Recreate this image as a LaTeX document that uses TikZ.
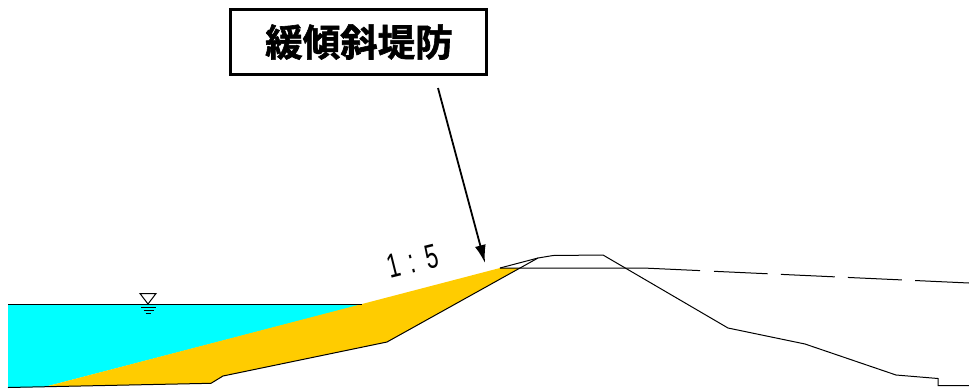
\documentclass[tikz,border=0pt]{standalone}
\usepackage{fontspec}
\setmainfont{Liberation Sans}
\newfontfamily\cjk[FakeBold=1.6]{Noto Sans CJK JP Bold}
\usetikzlibrary{arrows.meta}
\definecolor{watercol}{RGB}{0,255,255}
\definecolor{fillcol}{RGB}{255,204,0}
\tikzset{
  ground/.style={draw=black,line width=1pt,line join=miter},
  titlebox/.style={draw=black,line width=2.2pt,fill=white,minimum width=256pt,minimum height=65pt,inner sep=0pt},
  leader/.style={draw=black,line width=1.8pt,-{Latex[length=18pt,width=11pt]}},
  longdash/.style={ground,dash pattern=on 54pt off 13.2pt}
}
\begin{document}
\begin{tikzpicture}[x=1pt,y=-1pt]
\useasboundingbox (0,0) rectangle (969,389);
% key points
\coordinate (wl) at (8,304.5);
\coordinate (wb) at (8,387.5);
\coordinate (ws) at (362,304.5);
\coordinate (toe) at (44,387);
\coordinate (topA) at (500,268);
\coordinate (topB) at (520,268);
\coordinate (b1) at (387,342);
\coordinate (b2) at (223,376);
\coordinate (b3) at (211,383.3);
\coordinate (c1) at (538,258);
\coordinate (c2) at (553,255.5);
\coordinate (c3) at (603,255);
\coordinate (r1) at (728,328);
\coordinate (r2) at (805,344);
\coordinate (r3) at (896,375);
\coordinate (r4) at (938,378.5);
\coordinate (r5) at (938,385.5);
\coordinate (r6) at (969,385.5);
\coordinate (h1) at (643,268);
\coordinate (h2) at (700,270.6);
\coordinate (d1) at (969,283);
\coordinate (d2) at (714,271.3);
% fills
\fill[watercol] (wl) -- (ws) -- (toe) -- (wb) -- cycle;
\fill[fillcol] (toe) -- (topA) -- (topB) -- (b1) -- (b2) -- (b3) -- cycle;
% lines
\draw[ground] (wl) -- (ws);
\draw[ground] (wb) -- (b3) -- (b2) -- (b1) -- (c1) -- (c2) -- (c3) -- (r1) -- (r2) -- (r3) -- (r4) -- (r5) -- (r6);
\draw[ground] (topA) -- (c1);
\draw[ground] (topA) -- (h1) -- (h2);
\draw[longdash] (d1) -- (d2);
% water level mark
\coordinate (m1) at (140,293.5);
\coordinate (m2) at (156,293.5);
\coordinate (m3) at (148,304);
\draw[ground,fill=white] (m1) -- (m2) -- (m3) -- cycle;
\draw[line width=0.9pt] (141,307) -- (156,307) (143.5,310.5) -- (153.5,310.5) (145.5,313.8) -- (151,313.8);
% title and leader
\node[titlebox] (title) at (358.5,42) {\cjk\fontsize{37.5pt}{37.5pt}\selectfont\hspace{1pt}緩傾斜堤防};
\coordinate (from) at (438,88);
\coordinate (tip) at (485,263);
\draw[leader] (from) -- (tip);
% slope label
\node[rotate=14,xscale=0.66,inner sep=0pt] (slope) at (413,261) {\fontsize{34pt}{34pt}\selectfont 1\hspace{0.12em} : \hspace{0.12em}5};
\end{tikzpicture}
\end{document}
